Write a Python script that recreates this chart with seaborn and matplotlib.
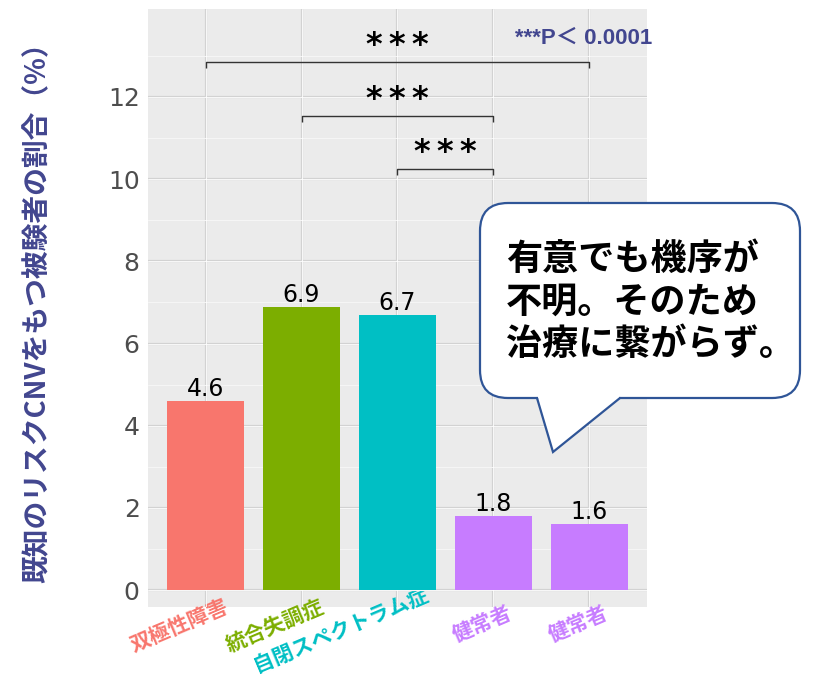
import matplotlib
matplotlib.use("Agg")
import matplotlib.pyplot as plt
import matplotlib.transforms as mtransforms
from matplotlib.patches import FancyBboxPatch, Polygon
from matplotlib.lines import Line2D
import seaborn as sns
import pandas as pd

# ---------------- data ----------------
categories = ["双極性障害", "統合失調症", "自閉スペクトラム症", "健常者", "健常者"]
values = [4.6, 6.9, 6.7, 1.8, 1.6]
value_labels = ["4.6", "6.9", "6.7", "1.8", "1.6"]
bar_colors = ["#F8766D", "#7CAE00", "#00BFC4", "#C77CFF", "#C77CFF"]
y_ticks = [0, 2, 4, 6, 8, 10, 12]
comparisons = [(0, 4, 12.85), (1, 3, 11.54), (2, 3, 10.25)]
sig_label = "***"
ylabel = "既知のリスクCNVをもつ被験者の割合（%）"
p_note = "***P＜ 0.0001"
callout = "有意でも機序が\n不明。そのため\n治療に繋がらず。"

# ---------------- style ----------------
sns.set_theme(style="darkgrid")
plt.rcParams['font.family'] = ['DejaVu Sans', 'Noto Sans CJK JP']
CJK = ['Noto Sans CJK JP', 'DejaVu Sans']
NAVY = '#42468F'

W, H = 820, 678
fig = plt.figure(figsize=(W / 100, H / 100), dpi=100)
fig.patch.set_facecolor('white')
L, R, T, B = 148, 647, 9, 607
ax = fig.add_axes([L / W, 1 - B / H, (R - L) / W, (B - T) / H])

ids = [f"c{i}" for i in range(len(categories))]
df = pd.DataFrame({"id": ids, "value": values})
sns.barplot(data=df, x="id", y="value", hue="id", palette=bar_colors,
            legend=False, width=0.8, saturation=1, ax=ax, linewidth=0)

ax.set_facecolor('#EBEBEB')
for s in ax.spines.values():
    s.set_visible(False)
ax.set_xlim(-0.6, len(categories) - 0.4)
ax.set_ylim(-0.41, 14.14)
ax.set_axisbelow(True)

ax.set_yticks(y_ticks)
ax.set_yticks([t + 1 for t in y_ticks], minor=True)
ax.grid(which='major', color='#D2D2D2', lw=1.6)
ax.grid(which='minor', axis='y', color='#F6F6F6', lw=0.7)
ax.grid(which='minor', axis='x', visible=False)
for t in y_ticks:
    ax.axhline(t, color='white', lw=0.6, zorder=0.6)
for i in range(len(categories)):
    ax.axvline(i, color='white', lw=0.6, zorder=0.6)

ax.tick_params(axis='y', which='major', length=4, width=1, color='#333333',
               labelsize=18, labelcolor='#4D4D4D', pad=2)
ax.tick_params(axis='y', which='minor', length=0)
ax.set_ylabel("")
ax.set_xlabel("")

ax.set_xticks(range(len(categories)))
ax.set_xticklabels(categories, rotation=23, rotation_mode='anchor', ha='right',
                   va='top', fontsize=15, fontweight='bold', family=CJK)
ax.tick_params(axis='x', length=0, pad=0)
for lbl, c, name in zip(ax.get_xticklabels(), bar_colors, categories):
    n = len(name)
    dx_px, dy_px = 8 + 2 * n, -4 + 3 * n
    off = mtransforms.ScaledTranslation(dx_px / 100, dy_px / 100, fig.dpi_scale_trans)
    lbl.set_color(c)
    lbl.set_transform(lbl.get_transform() + off)

# value labels
for i, (v, lab) in enumerate(zip(values, value_labels)):
    ax.text(i, v, lab, ha='center', va='bottom', fontsize=17, color='black',
            family='DejaVu Sans')

# significance brackets
for a, b, h in comparisons:
    ax.plot([a, a, b, b], [h - 0.15, h, h, h - 0.15], color='#333333', lw=1.0,
            solid_capstyle='butt')
    ax.annotate("\u2009".join(sig_label), xy=((a + b) / 2, h), xytext=(0, 5.8),
                textcoords='offset points', ha='center', va='baseline',
                fontsize=23, fontweight='bold', color='black', family='DejaVu Sans')

# y label and p-value note
fig.text(38 / W, 1 - 306 / H, ylabel, rotation=90, ha='center', va='center',
         fontsize=20, fontweight='bold', color=NAVY, family=CJK)
fig.text(515 / W, 1 - 38 / H, p_note, ha='left', va='center', fontsize=16,
         fontweight='bold', color=NAVY, family=['Liberation Sans', 'Noto Sans CJK JP'])

# callout bubble (pixel coordinates, y downward)
pix = mtransforms.Affine2D().scale(1 / W, -1 / H).translate(0, 1) + fig.transFigure
EDGE = '#2F5597'
box = FancyBboxPatch((480, 203), 320, 195, boxstyle='round,pad=0,rounding_size=28',
                     transform=pix, facecolor='white', edgecolor=EDGE, lw=1.6, zorder=10)
fig.add_artist(box)
tail_fill = Polygon([(538, 390), (538, 398), (553, 452), (619, 398), (619, 390)],
                    closed=True, transform=pix, facecolor='white', edgecolor='none', zorder=11)
fig.add_artist(tail_fill)
fig.add_artist(Line2D([537, 553, 620], [398, 452, 398], transform=pix, color=EDGE,
                      lw=1.6, zorder=12, solid_joinstyle='miter'))
fig.text(506 / W, 1 - 302 / H, callout, ha='left', va='center', linespacing=1.2,
         fontsize=26, fontweight='bold', color='black', family=CJK, zorder=13)

fig.savefig("out.png", dpi=100)
